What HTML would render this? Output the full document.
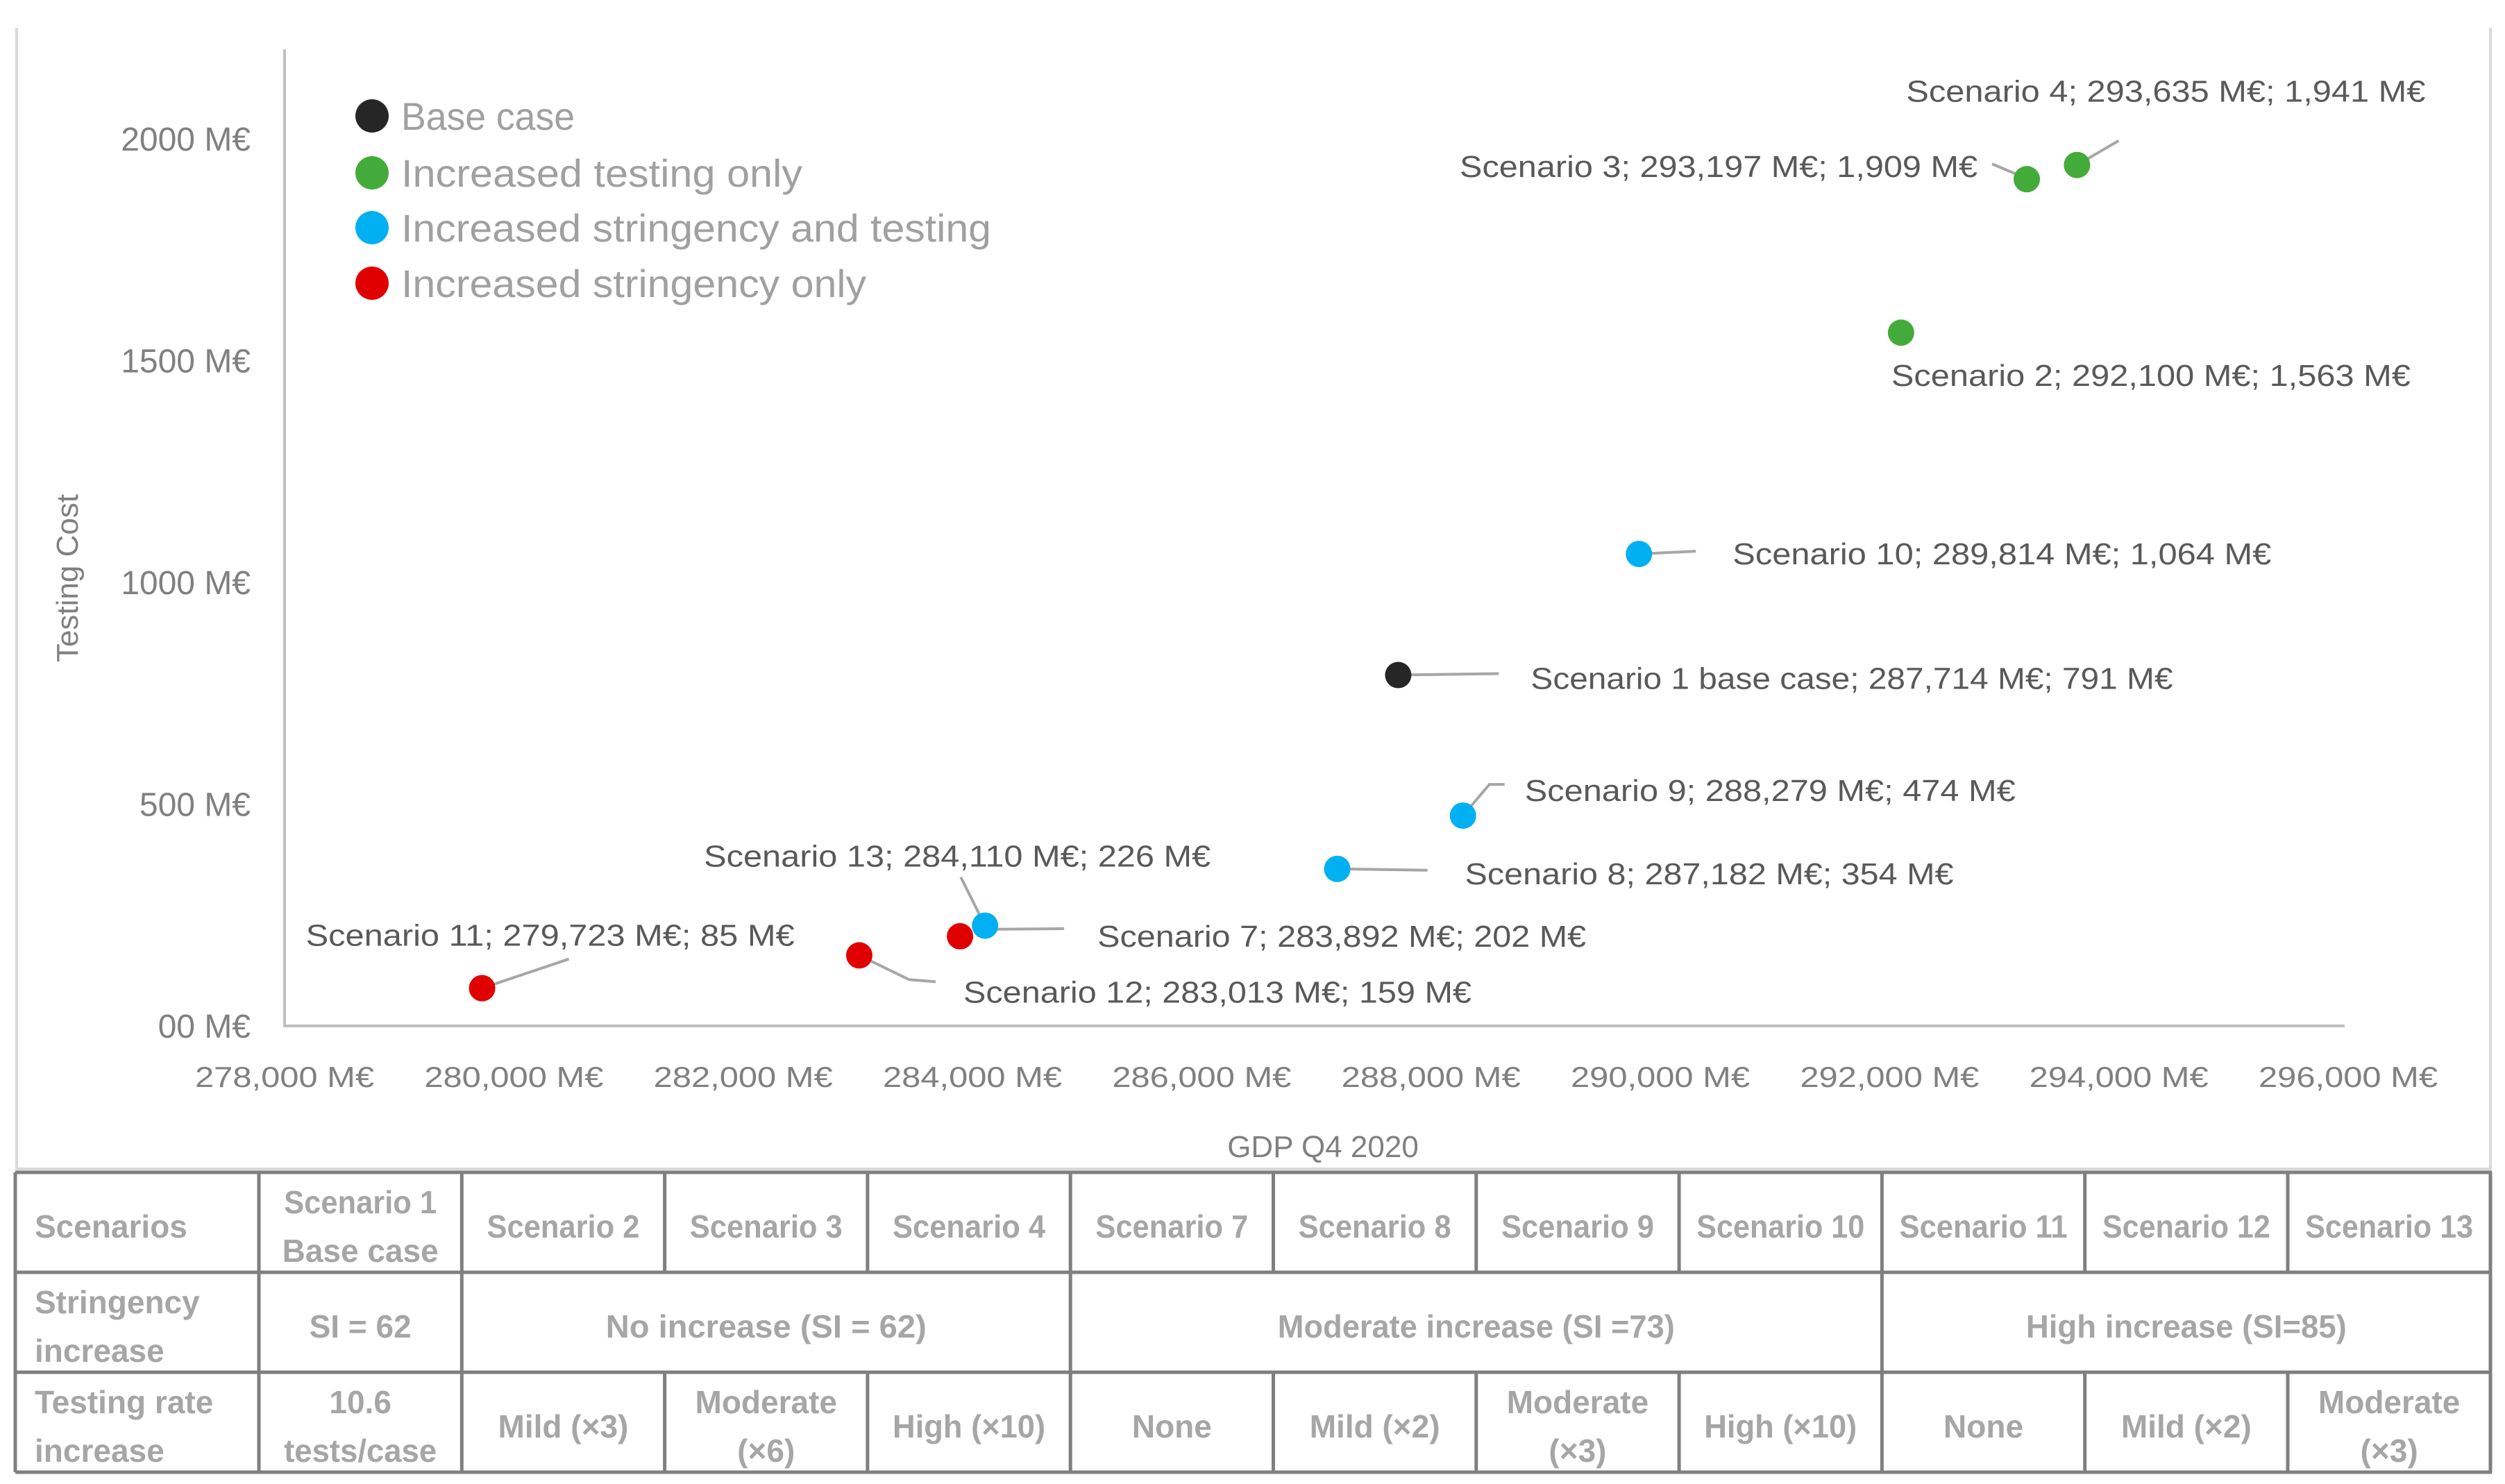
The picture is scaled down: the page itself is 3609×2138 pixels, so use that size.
<!DOCTYPE html>
<html><head><meta charset="utf-8"><style>
html,body{margin:0;padding:0;background:#fff;}
svg{display:block;font-family:"Liberation Sans",sans-serif;}
</style></head><body>
<svg id="chart" width="3609" height="2138" viewBox="0 0 3609 2138" xmlns="http://www.w3.org/2000/svg">
<path d="M24 40 V1684 H3588 V40" fill="none" stroke="#d9d9d9" stroke-width="4"/>
<g id="axes"></g>
<g id="marks"></g>
<g id="legend">
 <g><circle cx="536" cy="167" r="24" fill="#262626"/><text x="578" y="187" font-size="56" fill="#a0a0a0" textLength="250" lengthAdjust="spacingAndGlyphs">Base case</text></g>
 <g><circle cx="536" cy="249" r="24" fill="#43ab3a"/><text x="578" y="269" font-size="56" fill="#a0a0a0" textLength="578" lengthAdjust="spacingAndGlyphs">Increased testing only</text></g>
 <g><circle cx="536" cy="328" r="24" fill="#00b0f0"/><text x="578" y="348" font-size="56" fill="#a0a0a0" textLength="850" lengthAdjust="spacingAndGlyphs">Increased stringency and testing</text></g>
 <g><circle cx="536" cy="408" r="24" fill="#e00000"/><text x="578" y="428" font-size="56" fill="#a0a0a0" textLength="670" lengthAdjust="spacingAndGlyphs">Increased stringency only</text></g>
</g>
<g id="table"></g>
</svg>
<script>
const names=["Scenario 1 base case","Scenario 2","Scenario 3","Scenario 4","Scenario 7","Scenario 8","Scenario 9","Scenario 10","Scenario 11","Scenario 12","Scenario 13"];
const gdp=[287714,292100,293197,293635,283892,287182,288279,289814,279723,283013,284110];
const cost=[791,1563,1909,1941,202,354,474,1064,85,159,226];
const groups=["base","testing","testing","testing","stringency","both","both","both","stringency","stringency","both"];
const xTicks=[278000,280000,282000,284000,286000,288000,290000,292000,294000,296000];
const yTicks=[0,500,1000,1500,2000];
const yTickLabels=["00 M€","500 M€","1000 M€","1500 M€","2000 M€"];
const colors={base:"#262626",testing:"#43ab3a",both:"#00b0f0",stringency:"#e00000"};
// layout (offsets relative to point, px)
const lab=[[191,5,"start",925],[-14,62,"start",748],[-71,-18,"end",746],[-246,-106,"start",748],[198,0,"start",704],[184,7,"start",704],[89,-36,"start",707],[135,0,"start",776],[-254,-76,"start",704],[150,53,"start",732],[-405,-100,"start",730]];
const leaders=[[[0,0],[145,-2]],null,[[-12,-6],[-50,-22]],[[0,0],[60,-35]],[[38,-10],[150,-11]],[[0,0],[130,2]],[[0,0],[38,-45],[60,-45]],[[0,0],[82,-4]],[[0,0],[125,-42]],[[0,0],[72,35],[110,38]],[[0,0],[-35,-70]]];
const X0=410,X1=3383,Y0=1478,Y1=200;
const xs=v=>X0+(v-278000)/(296000-278000)*(X1-X0);
const ys=v=>Y0-v/2000*(Y0-Y1);
const NS="http://www.w3.org/2000/svg";
function mk(tag,at,parent){const e=document.createElementNS(NS,tag);for(const k in at)e.setAttribute(k,at[k]);parent.appendChild(e);return e;}
const axes=document.getElementById('axes');
let l=mk('path',{d:`M${X0} 71 V${Y0} H3378`,fill:'none',stroke:'#bfbfbf','stroke-width':4},axes);


xTicks.forEach(v=>{const t=mk('text',{x:xs(v),y:1566,'font-size':42,fill:'#808080','text-anchor':'middle',textLength:258,lengthAdjust:'spacingAndGlyphs'},axes);t.textContent=v.toLocaleString('en-US')+" M€";

});
yTicks.forEach((v,i)=>{const t=mk('text',{x:361,y:ys(v)+17,'font-size':48,fill:'#808080','text-anchor':'end'},axes);t.textContent=yTickLabels[i];

});
let xt=mk('text',{x:1906,y:1667,'font-size':44,fill:'#808080','text-anchor':'middle'},axes);xt.textContent="GDP  Q4 2020";


let yt=mk('text',{x:0,y:0,'font-size':44,fill:'#808080','text-anchor':'middle',transform:'translate(112,833) rotate(-90)'},axes);yt.textContent="Testing Cost";


const marks=document.getElementById('marks');
gdp.forEach((g,i)=>{const cx=xs(g),cy=ys(cost[i]);
 if(leaders[i]){const p=mk('polyline',{points:leaders[i].map(q=>(cx+q[0])+","+(cy+q[1])).join(" "),fill:'none',stroke:'#a6a6a6','stroke-width':4},marks);
 
 }
 const c=mk('circle',{cx:cx,cy:cy,r:19,fill:colors[groups[i]]},marks);
 
 
 const L=lab[i];const t=mk('text',{x:cx+L[0],y:cy+L[1]+15,'font-size':44,fill:'#595959','text-anchor':L[2],textLength:L[3],lengthAdjust:'spacingAndGlyphs'},marks);
 t.textContent=names[i]+"; "+g.toLocaleString('en-US')+" M€; "+cost[i].toLocaleString('en-US')+" M€";
 
 
});
// table
const tb=document.getElementById('table');
const cx0=22,c1=373,cw=292.3,rows=[1689,1833,1977,2121];
const colX=i=>i===0?cx0:c1+cw*(i-1);
const header=[["Scenarios"],["Scenario 1","Base case"],["Scenario 2"],["Scenario 3"],["Scenario 4"],["Scenario 7"],["Scenario 8"],["Scenario 9"],["Scenario 10"],["Scenario 11"],["Scenario 12"],["Scenario 13"]];
const row3=[["Testing rate","increase"],["10.6","tests/case"],["Mild (×3)"],["Moderate","(×6)"],["High (×10)"],["None"],["Mild (×2)"],["Moderate","(×3)"],["High (×10)"],["None"],["Mild (×2)"],["Moderate","(×3)"]];
const row2=[[0,1,["Stringency","increase"]],[1,2,["SI = 62"]],[2,5,["No increase (SI = 62)"]],[5,9,["Moderate increase (SI =73)"]],[9,12,["High increase (SI=85)"]]];
function cellText(lines,x0,x1,r,left){const cy=(rows[r]+rows[r+1])/2;lines.forEach((s,j)=>{const y=cy+22+(lines.length===2?(j?35:-35):0);
 const t=mk('text',{x:left?x0+28:(x0+x1)/2,y:y,'font-size':46,'font-weight':'bold',fill:'#a6a6a6','text-anchor':left?'start':'middle'},tb);t.textContent=s;
 if(s.length>9&&!left)t.setAttribute('textLength',Math.min(s.length*22,x1-x0-8)),t.setAttribute('lengthAdjust','spacingAndGlyphs');
 
 });}
header.forEach((h,i)=>cellText(h,colX(i),colX(i+1),0,i===0));
row3.forEach((h,i)=>cellText(h,colX(i),colX(i+1),2,i===0));
row2.forEach(s=>cellText(s[2],colX(s[0]),colX(s[1]),1,s[0]===0));
rows.forEach(y=>{const ln=mk('line',{x1:cx0,x2:3590,y1:y,y2:y,stroke:'#7f7f7f','stroke-width':5},tb);});
for(let i=0;i<=12;i++){const x=i===12?3588:colX(i);let segs=[[0,3]];
 if([3,4,6,7,8,10,11].includes(i))segs=[[0,1],[2,3]];
 segs.forEach(s=>{const ln=mk('line',{x1:x,x2:x,y1:rows[s[0]],y2:rows[s[1]],stroke:'#7f7f7f','stroke-width':5},tb);
 
 });}
</script>
</body></html>
